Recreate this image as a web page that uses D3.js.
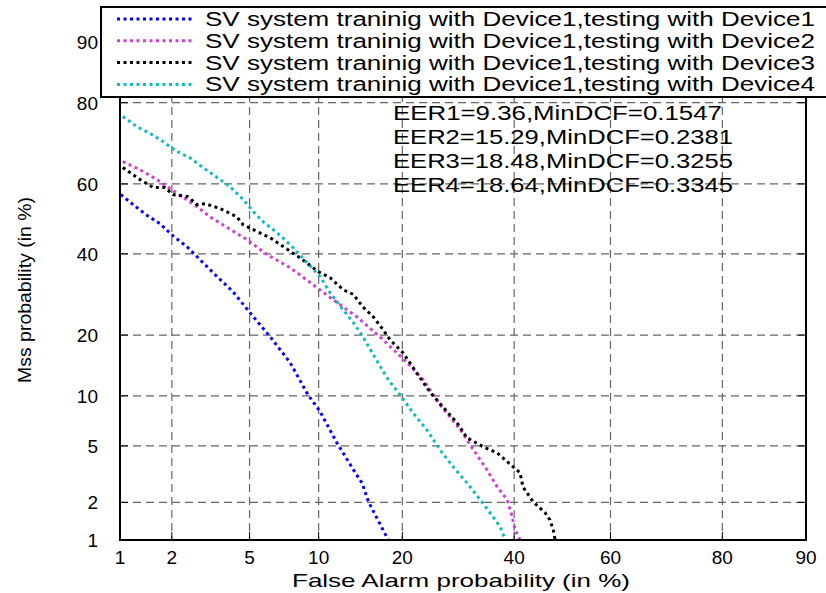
<!DOCTYPE html>
<html>
<head>
<meta charset="utf-8">
<script src="https://cdn.jsdelivr.net/npm/d3@7"></script>
<style>
  body { margin: 0; background: #fff; }
  svg { display: block; font-family: "Liberation Sans", Arial, sans-serif; }
</style>
</head>
<body>
<div id="chart"></div>
<script>
// data, values in %
const tickVals = [1, 2, 5, 10, 20, 40, 60, 80, 90];
const gridVals = [2, 5, 10, 20, 40, 60, 80];

const seriesNames = [
  'SV system traninig with Device1,testing with Device1',
  'SV system traninig with Device1,testing with Device2',
  'SV system traninig with Device1,testing with Device3',
  'SV system traninig with Device1,testing with Device4'
];
const seriesColors = ['#0000ff', '#d040d0', '#000000', '#10bcbc'];

const fa1 = [1.01, 1.2, 1.45, 1.72, 2.03, 2.42, 2.77, 3.47, 4.16, 5.03, 6.21, 7.61, 9.06, 10.1, 11.8, 13.6, 14.6, 15.4, 16.6, 18.0];
const miss1 = [57.0, 54.1, 51.0, 48.6, 45.1, 42.0, 38.9, 33.8, 29.9, 24.8, 19.7, 14.9, 10.1, 8.2, 5.23, 3.45, 2.79, 2.02, 1.46, 1.0];

const fa2 = [1.04, 1.32, 1.65, 2.03, 2.74, 3.19, 3.9, 4.87, 6.02, 7.61, 9.49, 11.4, 14.0, 17.3, 20.7, 23.2, 26.0, 29.6, 32.0, 34.6, 36.6, 38.6, 39.6, 40.2, 41.2];
const miss2 = [66.1, 63.9, 61.2, 58.1, 53.5, 50.6, 47.5, 44.0, 39.8, 36.2, 31.7, 27.9, 23.9, 19.05, 14.9, 12.2, 8.9, 6.33, 4.72, 3.45, 2.61, 2.09, 1.54, 1.21, 1.0];

const fa3 = [1.04, 1.32, 1.57, 1.83, 2.03, 2.45, 2.74, 3.01, 3.59, 4.35, 4.66, 5.2, 6.21, 7.24, 8.39, 9.96, 11.1, 12.45, 13.6, 14.7, 16.0, 17.3, 18.25, 20.1, 22.2, 24.4, 26.5, 29.0, 30.8, 33.9, 36.6, 39.8, 41.2, 41.8, 43.9, 46.4, 47.4, 48.1, 48.5];
const miss3 = [64.5, 61.2, 59.0, 59.0, 57.0, 56.4, 54.1, 54.4, 53.0, 50.6, 48.3, 46.9, 44.6, 41.7, 38.9, 35.1, 33.5, 30.4, 29.2, 26.2, 23.9, 21.1, 19.05, 16.6, 13.2, 10.4, 8.66, 6.97, 5.64, 4.93, 4.5, 3.62, 3.29, 2.61, 2.02, 1.66, 1.46, 1.21, 1.0];

const fa4 = [1.04, 1.26, 1.51, 1.79, 2.14, 2.51, 2.94, 3.47, 4.03, 4.66, 5.2, 5.77, 6.68, 7.61, 8.98, 10.13, 11.1, 12.45, 13.6, 14.7, 16.6, 18.0, 19.7, 21.6, 23.8, 26.0, 28.3, 30.8, 33.3, 35.8, 37.2, 38.2];
const miss4 = [77.1, 74.8, 73.2, 71.2, 68.7, 67.1, 64.5, 61.8, 59.2, 55.6, 52.1, 49.2, 46.0, 42.6, 37.6, 33.8, 29.6, 25.5, 22.6, 19.7, 14.9, 12.2, 10.1, 8.0, 6.33, 4.72, 3.62, 2.79, 2.09, 1.54, 1.28, 1.0];

const eerLines = [
  'EER1=9.36,MinDCF=0.1547',
  'EER2=15.29,MinDCF=0.2381',
  'EER3=18.48,MinDCF=0.3255',
  'EER4=18.64,MinDCF=0.3345'
];

// -----------------------------------------------
// inverse normal cdf (Acklam)
let probit = (p) => {
  const a = [-3.969683028665376e+01, 2.209460984245205e+02, -2.759285104469687e+02, 1.383577518672690e+02, -3.066479806614716e+01, 2.506628277459239e+00];
  const b = [-5.447609879822406e+01, 1.615858368580409e+02, -1.556989798598866e+02, 6.680131188771972e+01, -1.328068155288572e+01];
  const c = [-7.784894002430293e-03, -3.223964580411365e-01, -2.400758277161838e+00, -2.549732539343734e+00, 4.374664141464968e+00, 2.938163982698783e+00];
  const d = [7.784695709041462e-03, 3.224671290700398e-01, 2.445134137142996e+00, 3.754408661907416e+00];
  const pl = 0.02425;
  let q, r;
  if (p < pl) {
    q = Math.sqrt(-2 * Math.log(p));
    return (((((c[0] * q + c[1]) * q + c[2]) * q + c[3]) * q + c[4]) * q + c[5]) /
      ((((d[0] * q + d[1]) * q + d[2]) * q + d[3]) * q + 1);
  }
  if (p > 1 - pl) {
    q = Math.sqrt(-2 * Math.log(1 - p));
    return -(((((c[0] * q + c[1]) * q + c[2]) * q + c[3]) * q + c[4]) * q + c[5]) /
      ((((d[0] * q + d[1]) * q + d[2]) * q + d[3]) * q + 1);
  }
  q = p - 0.5;
  r = q * q;
  return (((((a[0] * r + a[1]) * r + a[2]) * r + a[3]) * r + a[4]) * r + a[5]) * q /
    (((((b[0] * r + b[1]) * r + b[2]) * r + b[3]) * r + b[4]) * r + 1);
};

const width = 826, height = 593;
const plot = { left: 120, right: 806, top: 42, bottom: 540 };

const zMin = probit(0.01), zMax = probit(0.9);
const xLin = d3.scaleLinear().domain([zMin, zMax]).range([plot.left, plot.right]);
const yLin = d3.scaleLinear().domain([zMin, zMax]).range([plot.bottom, plot.top]);
const x = (v) => xLin(probit(v / 100));
const y = (v) => yLin(probit(v / 100));

const svg = d3.select('#chart').append('svg')
  .attr('width', width)
  .attr('height', height);

// grid
const grid = svg.append('g')
  .attr('stroke', '#666')
  .attr('stroke-width', 1.2)
  .attr('stroke-dasharray', '8,5');
grid.selectAll('.vg').data(gridVals).join('line')
  .attr('x1', (d) => x(d)).attr('x2', (d) => x(d))
  .attr('y1', plot.top).attr('y2', plot.bottom);
grid.selectAll('.hg').data(gridVals).join('line')
  .attr('class', 'hg')
  .attr('x1', plot.left).attr('x2', plot.right)
  .attr('y1', (d) => y(d)).attr('y2', (d) => y(d));

// inward ticks on all sides
const tk = svg.append('g').attr('stroke', '#000').attr('stroke-width', 1);
const tl = 8;
tickVals.forEach((v) => {
  tk.append('line').attr('x1', plot.left).attr('x2', plot.left + tl).attr('y1', y(v)).attr('y2', y(v));
  tk.append('line').attr('x1', plot.right).attr('x2', plot.right - tl).attr('y1', y(v)).attr('y2', y(v));
  tk.append('line').attr('x1', x(v)).attr('x2', x(v)).attr('y1', plot.bottom).attr('y2', plot.bottom - tl);
  tk.append('line').attr('x1', x(v)).attr('x2', x(v)).attr('y1', plot.top).attr('y2', plot.top + tl);
});

// curves
const series = [
  { fa: fa1, miss: miss1 },
  { fa: fa2, miss: miss2 },
  { fa: fa3, miss: miss3 },
  { fa: fa4, miss: miss4 }
];
const line = d3.line().x((d) => x(d[0])).y((d) => y(d[1]));
series.forEach((s, i) => {
  svg.append('path')
    .datum(s.fa.map((f, j) => [f, s.miss[j]]))
    .attr('fill', 'none')
    .attr('stroke', seriesColors[i])
    .attr('stroke-width', 3)
    .attr('stroke-dasharray', '3,3.5');
});
svg.selectAll('path').attr('d', line);

// axes box
svg.append('rect')
  .attr('x', plot.left).attr('y', plot.top)
  .attr('width', plot.right - plot.left)
  .attr('height', plot.bottom - plot.top)
  .attr('fill', 'none')
  .attr('stroke', '#000')
  .attr('stroke-width', 2);

// tick labels
svg.append('g').selectAll('text').data(tickVals).join('text')
  .attr('x', (d) => x(d)).attr('y', 564)
  .attr('text-anchor', 'middle')
  .attr('font-size', 19)
  .text((d) => d);
svg.append('g').selectAll('text').data(tickVals).join('text')
  .attr('x', 98).attr('y', (d) => y(d) + 7)
  .attr('text-anchor', 'end')
  .attr('font-size', 19)
  .text((d) => d);

// axis titles
svg.append('text')
  .attr('x', 461).attr('y', 587)
  .attr('text-anchor', 'middle')
  .attr('font-size', 19)
  .attr('textLength', 338).attr('lengthAdjust', 'spacingAndGlyphs')
  .text('False Alarm probability (in %)');
svg.append('text')
  .attr('transform', 'translate(31,290) rotate(-90)')
  .attr('text-anchor', 'middle')
  .attr('font-size', 19)
  .attr('textLength', 186).attr('lengthAdjust', 'spacingAndGlyphs')
  .text('Mss probability (in %)');

// EER annotations
svg.append('g').selectAll('text').data(eerLines).join('text')
  .attr('x', 393).attr('y', (d, i) => 120 + i * 24)
  .attr('font-size', 20)
  .attr('textLength', (d, i) => (i === 0 ? 329 : 340))
  .attr('lengthAdjust', 'spacingAndGlyphs')
  .text((d) => d);

// legend
const lg = svg.append('g');
lg.append('rect')
  .attr('x', 101).attr('y', 7)
  .attr('width', 740).attr('height', 90)
  .attr('fill', '#fff')
  .attr('stroke', '#000')
  .attr('stroke-width', 2);
seriesNames.forEach((n, i) => {
  const cy = 19 + i * 21.8;
  lg.append('line')
    .attr('x1', 117).attr('x2', 193)
    .attr('y1', cy).attr('y2', cy)
    .attr('stroke', seriesColors[i])
    .attr('stroke-width', 3)
    .attr('stroke-dasharray', '3,3.5');
  lg.append('text')
    .attr('x', 205).attr('y', cy + 7)
    .attr('font-size', 20)
    .attr('textLength', 610).attr('lengthAdjust', 'spacingAndGlyphs')
    .text(n);
});
</script>
</body>
</html>
